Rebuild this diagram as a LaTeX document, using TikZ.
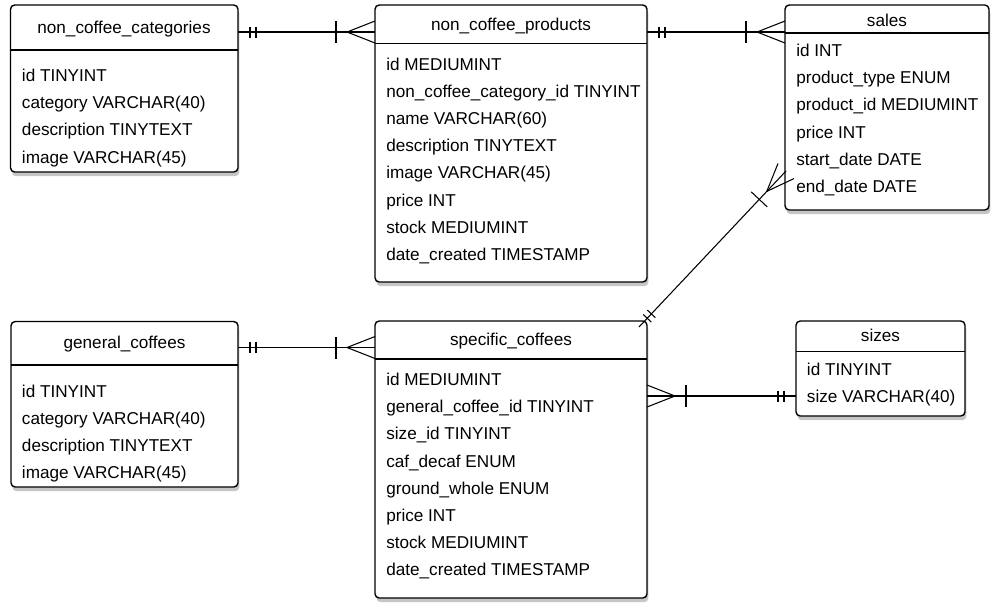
\documentclass[tikz,border=0pt]{standalone}
\usepackage{fontspec}
\setmainfont{Liberation Sans}
\usetikzlibrary{fit,shadows,decorations.markings}

\tikzset{
  tbl/.style={draw, line width=1pt, rounded corners=3pt, fill=white, inner sep=0pt, outer sep=0pt,
    drop shadow={opacity=0.45, shadow xshift=1pt, shadow yshift=-3pt}},
  ttl/.style={anchor=base, inner sep=0pt, font=\fontsize{12.2}{14}\selectfont},
  row/.style={anchor=base west, inner sep=0pt, font=\fontsize{12.2}{14}\selectfont},
  rel/.style={line width=0.75pt},
  crowend/.style={postaction={decorate, decoration={markings,
    mark=at position -0.7cm with {\draw[rel] (0,0) -- (0.7cm,0.275cm) (0,0) -- (0.7cm,-0.275cm);},
    mark=at position -0.975cm with {\draw[rel] (0,-0.275cm) -- (0,0.275cm);}}}},
  onestart/.style={postaction={decorate, decoration={markings,
    mark=at position 0.3cm with {\draw[rel] (0,-0.1375cm) -- (0,0.1375cm);},
    mark=at position 0.45cm with {\draw[rel] (0,-0.1375cm) -- (0,0.1375cm);}}}}
}

\begin{document}
\begin{tikzpicture}[x=0.025cm,y=-0.025cm]
\useasboundingbox (0,0) rectangle (1000,614);

\node[tbl, fit={(10.5,5) (238,172)}] (ncc) {};
\node[tbl, fit={(375,5) (647,282)}] (ncp) {};
\node[tbl, fit={(785,5) (989,210)}] (sa) {};
\node[tbl, fit={(11,321.5) (238,487)}] (gc) {};
\node[tbl, fit={(375,321) (647,598)}] (sc) {};
\node[tbl, fit={(796,321) (965,416)}] (sz) {};

\draw[line width=1pt] (ncc.west |- 0,50) -- (ncc.east |- 0,50);
\draw[line width=1pt] (ncp.west |- 0,43.5) -- (ncp.east |- 0,43.5);
\draw[line width=1pt] (sa.west |- 0,33) -- (sa.east |- 0,33);
\draw[line width=1pt] (gc.west |- 0,365) -- (gc.east |- 0,365);
\draw[line width=1pt] (sc.west |- 0,359) -- (sc.east |- 0,359);
\draw[line width=1pt] (sz.west |- 0,351.5) -- (sz.east |- 0,351.5);

\node[ttl] (ncc-t) at (124,33.5) {non\_coffee\_categories};
\node[ttl] (ncp-t) at (511,30.7) {non\_coffee\_products};
\node[ttl] (sa-t) at (887,26) {sales};
\node[ttl] (gc-t) at (124.5,348.3) {general\_coffees};
\node[ttl] (sc-t) at (511,345) {specific\_coffees};
\node[ttl] (sz-t) at (880.5,341.7) {sizes};

\foreach \r [count=\i from 0] in {id TINYINT, category VARCHAR(40), description TINYTEXT, image VARCHAR(45)}
  \node[row] (ncc-\i) at (21.7,{81.5+27.2*\i}) {\r};
\foreach \r [count=\i from 0] in {id MEDIUMINT, non\_coffee\_category\_id TINYINT, name VARCHAR(60), description TINYTEXT, image VARCHAR(45), price INT, stock MEDIUMINT, date\_created TIMESTAMP}
  \node[row] (ncp-\i) at (386,{70+27.2*\i}) {\r};
\foreach \r [count=\i from 0] in {id INT, product\_type ENUM, product\_id MEDIUMINT, price INT, start\_date DATE, end\_date DATE}
  \node[row] (sa-\i) at (796,{56.5+27.2*\i}) {\r};
\foreach \r [count=\i from 0] in {id TINYINT, category VARCHAR(40), description TINYTEXT, image VARCHAR(45)}
  \node[row] (gc-\i) at (21.7,{397.3+27.2*\i}) {\r};
\foreach \r [count=\i from 0] in {id MEDIUMINT, general\_coffee\_id TINYINT, size\_id TINYINT, caf\_decaf ENUM, ground\_whole ENUM, price INT, stock MEDIUMINT, date\_created TIMESTAMP}
  \node[row] (sc-\i) at (386,{385.5+27.2*\i}) {\r};
\foreach \r [count=\i from 0] in {id TINYINT, size VARCHAR(40)}
  \node[row] (sz-\i) at (806.7,{375+27.5*\i}) {\r};

\coordinate (sc-c) at (639,327);
\coordinate (sa-c) at (786,171);
\draw[rel, onestart, crowend] (ncc.east |- 0,32) -- (ncp.west |- 0,32);
\draw[rel, onestart, crowend] (ncp.east |- 0,32) -- (sa.west |- 0,32);
\draw[rel, onestart, crowend] (gc.east |- 0,347.5) -- (sc.west |- 0,347.5);
\draw[rel, onestart, crowend] (sz.west |- 0,396) -- (sc.east |- 0,396);
\draw[rel, onestart, crowend] (sc-c) -- (sa-c);
\end{tikzpicture}
\end{document}
